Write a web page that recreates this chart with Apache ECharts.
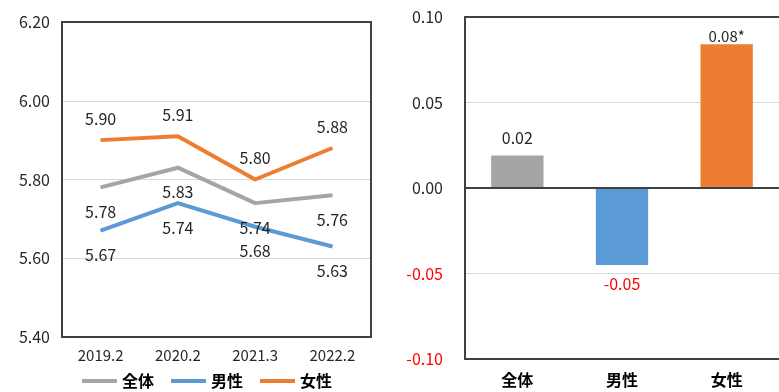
<!DOCTYPE html>
<html><head><meta charset="utf-8">
<script src="https://cdn.jsdelivr.net/npm/echarts@6/dist/echarts.min.js"></script>
<style>html,body{margin:0;padding:0;background:#fff}#c{width:779px;height:392px}</style>
</head><body><div id="c"></div>
<script>
const years = ['2019.2', '2020.2', '2021.3', '2022.2'];
const seriesNames = ['全体', '男性', '女性'];
const overall = [5.78, 5.83, 5.74, 5.76];
const male = [5.67, 5.74, 5.68, 5.63];
const female = [5.90, 5.91, 5.80, 5.88];
const leftTicks = [5.40, 5.60, 5.80, 6.00, 6.20];

const groups = ['全体', '男性', '女性'];
const diffValues = [0.019, -0.045, 0.084];
const diffLabels = ['0.02', '-0.05', '0.08*'];
const rightTicks = [-0.10, -0.05, 0.00, 0.05, 0.10];

const colors = ['#A5A5A5', '#5B9BD5', '#ED7D31'];
const FONT = '"Noto Sans CJK JP", "Noto Sans", sans-serif';
const border = '#404040';
const frameLine = {show: true, onZero: false, lineStyle: {color: border, width: 2}};

const chart = echarts.init(document.getElementById('c'), null, {renderer: 'canvas'});

function lineSeries(name, data, color, pos, dist) {
  return {
    name: name, type: 'line', xAxisIndex: 0, yAxisIndex: 0, data: data,
    symbol: 'circle', symbolSize: 1, showSymbol: true,
    lineStyle: {color: color, width: 4}, itemStyle: {color: color},
    label: {show: true, position: pos, distance: dist, fontFamily: FONT, fontSize: 16, color: '#262626',
      formatter: p => p.value.toFixed(2)},
    z: 3
  };
}

function frameX(grid, data, pos) {
  return {gridIndex: grid, type: 'category', data: data, position: pos,
    axisLine: frameLine, axisTick: {show: false}, axisLabel: {show: false}, splitLine: {show: false}};
}
function frameY(grid, ticks, step, pos) {
  return {gridIndex: grid, type: 'value', position: pos, min: ticks[0], max: ticks[ticks.length - 1], interval: step,
    axisLine: frameLine, axisTick: {show: false}, axisLabel: {show: false}, splitLine: {show: false}};
}

const option = {
  animation: false,
  backgroundColor: '#fff',
  textStyle: {fontFamily: FONT},
  color: colors,
  legend: {
    left: 82, top: 373, padding: 0, itemWidth: 35, itemHeight: 4, itemGap: 17, icon: 'rect',
    textStyle: {fontFamily: FONT, fontSize: 16, color: '#000', fontWeight: 'bold'},
    data: seriesNames
  },
  grid: [
    {left: 62, top: 22, width: 309, height: 315},
    {left: 465, top: 17, right: -6, bottom: 33}
  ],
  xAxis: [
    {gridIndex: 0, type: 'category', data: years, boundaryGap: true,
      axisLine: frameLine, axisTick: {show: false},
      axisLabel: {fontFamily: FONT, fontSize: 15, color: '#262626', margin: 11}},
    {gridIndex: 1, type: 'category', data: groups, boundaryGap: true,
      axisLine: frameLine, axisTick: {show: false},
      axisLabel: {fontFamily: FONT, fontSize: 16, color: '#000', fontWeight: 'bold', margin: 13}},
    frameX(0, years, 'top'),
    frameX(1, groups, 'top')
  ],
  yAxis: [
    {gridIndex: 0, type: 'value', min: leftTicks[0], max: leftTicks[leftTicks.length - 1], interval: 0.2,
      axisLine: frameLine, axisTick: {show: false},
      splitLine: {lineStyle: {color: '#D9D9D9', width: 1}},
      axisLabel: {fontFamily: FONT, fontSize: 16, color: '#262626', margin: 12, formatter: v => v.toFixed(2)}},
    {gridIndex: 1, type: 'value', min: rightTicks[0], max: rightTicks[rightTicks.length - 1], interval: 0.05,
      axisLine: frameLine, axisTick: {show: false},
      splitLine: {lineStyle: {color: '#D9D9D9', width: 1}},
      axisLabel: {fontFamily: FONT, fontSize: 16, margin: 22,
        color: v => (v < -1e-9 ? '#FF0000' : '#262626'),
        formatter: v => (Math.abs(v) < 1e-9 ? '0.00' : v.toFixed(2))}},
    frameY(0, leftTicks, 0.2, 'right')
  ],
  series: [
    lineSeries(seriesNames[0], overall, colors[0], 'bottom', 16),
    lineSeries(seriesNames[1], male, colors[1], 'bottom', 16),
    lineSeries(seriesNames[2], female, colors[2], 'top', 13),
    {
      name: 'diff', type: 'bar', xAxisIndex: 1, yAxisIndex: 1, barWidth: '50%',
      data: diffValues.map((v, i) => ({value: v, itemStyle: {color: colors[i]},
        label: {show: true, position: v < 0 ? 'bottom' : 'top', distance: v < 0 ? 11 : (i === 2 ? 1 : 10),
          color: v < 0 ? '#FF0000' : '#262626', fontSize: i === 2 ? 15 : 16,
          fontFamily: FONT, formatter: diffLabels[i]}})),
      markLine: {silent: true, symbol: 'none', label: {show: false},
        lineStyle: {color: border, width: 2, type: 'solid'}, data: [{yAxis: 0}]},
      z: 2
    }
  ]
};
chart.setOption(option);
</script></body></html>
